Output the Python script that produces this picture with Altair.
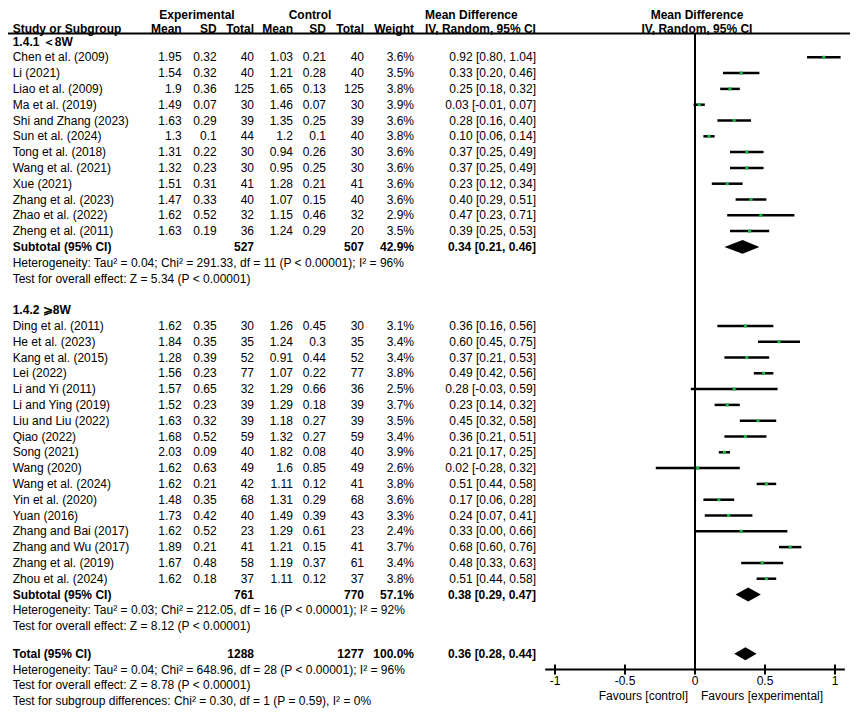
import altair as alt
import pandas as pd

FONT = "Liberation Sans"
GREEN = "#22B14C"

# ---------------- data ----------------
g1_label = "1.4.1 ＜8W"
g1_names = ["Chen et al.  (2009)", "Li  (2021)", "Liao et al.  (2009)", "Ma et al.  (2019)",
            "Shi and Zhang  (2023)", "Sun et al.  (2024)", "Tong et al.  (2018)", "Wang et al.  (2021)",
            "Xue  (2021)", "Zhang et al.  (2023)", "Zhao et al.  (2022)", "Zheng et al.  (2011)"]
g1_exp_mean = [1.95, 1.54, 1.9, 1.49, 1.63, 1.3, 1.31, 1.32, 1.51, 1.47, 1.62, 1.63]
g1_exp_sd = [0.32, 0.32, 0.36, 0.07, 0.29, 0.1, 0.22, 0.23, 0.31, 0.33, 0.52, 0.19]
g1_exp_n = [40, 40, 125, 30, 39, 44, 30, 30, 41, 40, 32, 36]
g1_ctl_mean = [1.03, 1.21, 1.65, 1.46, 1.35, 1.2, 0.94, 0.95, 1.28, 1.07, 1.15, 1.24]
g1_ctl_sd = [0.21, 0.28, 0.13, 0.07, 0.25, 0.1, 0.26, 0.25, 0.21, 0.15, 0.46, 0.29]
g1_ctl_n = [40, 40, 125, 30, 39, 40, 30, 30, 41, 40, 32, 20]
g1_weight = [3.6, 3.5, 3.8, 3.9, 3.6, 3.8, 3.6, 3.6, 3.6, 3.6, 2.9, 3.5]
g1_md = [0.92, 0.33, 0.25, 0.03, 0.28, 0.10, 0.37, 0.37, 0.23, 0.40, 0.47, 0.39]
g1_lo = [0.80, 0.20, 0.18, -0.01, 0.16, 0.06, 0.25, 0.25, 0.12, 0.29, 0.23, 0.25]
g1_hi = [1.04, 0.46, 0.32, 0.07, 0.40, 0.14, 0.49, 0.49, 0.34, 0.51, 0.71, 0.53]
g1_sub = {"en": 527, "cn": 507, "w": 42.9, "md": 0.34, "lo": 0.21, "hi": 0.46}
g1_het = "Heterogeneity: Tau² = 0.04; Chi² = 291.33, df = 11 (P < 0.00001); I² = 96%"
g1_test = "Test for overall effect: Z = 5.34 (P < 0.00001)"

g2_label = "1.4.2 ⩾8W"
g2_names = ["Ding et al.  (2011)", "He et al.  (2023)", "Kang et al.  (2015)", "Lei  (2022)",
            "Li and Yi  (2011)", "Li and Ying  (2019)", "Liu and Liu  (2022)", "Qiao  (2022)",
            "Song  (2021)", "Wang  (2020)", "Wang et al.  (2024)", "Yin et al.  (2020)",
            "Yuan  (2016)", "Zhang and Bai  (2017)", "Zhang and Wu  (2017)", "Zhang et al.  (2019)",
            "Zhou et al.  (2024)"]
g2_exp_mean = [1.62, 1.84, 1.28, 1.56, 1.57, 1.52, 1.63, 1.68, 2.03, 1.62, 1.62, 1.48, 1.73, 1.62, 1.89, 1.67, 1.62]
g2_exp_sd = [0.35, 0.35, 0.39, 0.23, 0.65, 0.23, 0.32, 0.52, 0.09, 0.63, 0.21, 0.35, 0.42, 0.52, 0.21, 0.48, 0.18]
g2_exp_n = [30, 35, 52, 77, 32, 39, 39, 59, 40, 49, 42, 68, 40, 23, 41, 58, 37]
g2_ctl_mean = [1.26, 1.24, 0.91, 1.07, 1.29, 1.29, 1.18, 1.32, 1.82, 1.6, 1.11, 1.31, 1.49, 1.29, 1.21, 1.19, 1.11]
g2_ctl_sd = [0.45, 0.3, 0.44, 0.22, 0.66, 0.18, 0.27, 0.27, 0.08, 0.85, 0.12, 0.29, 0.39, 0.61, 0.15, 0.37, 0.12]
g2_ctl_n = [30, 35, 52, 77, 36, 39, 39, 59, 40, 49, 41, 68, 43, 23, 41, 61, 37]
g2_weight = [3.1, 3.4, 3.4, 3.8, 2.5, 3.7, 3.5, 3.4, 3.9, 2.6, 3.8, 3.6, 3.3, 2.4, 3.7, 3.4, 3.8]
g2_md = [0.36, 0.60, 0.37, 0.49, 0.28, 0.23, 0.45, 0.36, 0.21, 0.02, 0.51, 0.17, 0.24, 0.33, 0.68, 0.48, 0.51]
g2_lo = [0.16, 0.45, 0.21, 0.42, -0.03, 0.14, 0.32, 0.21, 0.17, -0.28, 0.44, 0.06, 0.07, 0.00, 0.60, 0.33, 0.44]
g2_hi = [0.56, 0.75, 0.53, 0.56, 0.59, 0.32, 0.58, 0.51, 0.25, 0.32, 0.58, 0.28, 0.41, 0.66, 0.76, 0.63, 0.58]
g2_sub = {"en": 761, "cn": 770, "w": 57.1, "md": 0.38, "lo": 0.29, "hi": 0.47}
g2_het = "Heterogeneity: Tau² = 0.03; Chi² = 212.05, df = 16 (P < 0.00001); I² = 92%"
g2_test = "Test for overall effect: Z = 8.12 (P < 0.00001)"

tot = {"en": 1288, "cn": 1277, "w": 100.0, "md": 0.36, "lo": 0.28, "hi": 0.44}
tot_het = "Heterogeneity: Tau² = 0.04; Chi² = 648.96, df = 28 (P < 0.00001); I² = 96%"
tot_test = "Test for overall effect: Z = 8.78 (P < 0.00001)"
tot_sub = "Test for subgroup differences: Chi² = 0.30, df = 1 (P = 0.59), I² = 0%"

tick_vals = [-1, -0.5, 0, 0.5, 1]
tick_labels = ["-1", "-0.5", "0", "0.5", "1"]
axis_ext = [-1.07, 1.07]

# ---------------- layout (row index -> y) ----------------
R0_PX, ROW_PX = 33.5, 15.8
def rr(px):  # plot-pixel -> row units (layout helper for header rows)
    return (px - R0_PX) / ROW_PX

R_H1, R_H2, R_UL = rr(6.5), rr(21.0), rr(25.5)

cells = []   # r, col, text, bold
def add(r, col, text, bold=False):
    cells.append({"r": r, "col": col, "text": text, "bold": bold})

def ci(md, lo, hi):
    return f"{md:.2f} [{lo:.2f}, {hi:.2f}]"

# headers
add(R_H1, "exp_hdr", "Experimental", True)
add(R_H1, "ctl_hdr", "Control", True)
add(R_H1, "md_hdr", "Mean Difference", True)
add(R_H1, "fp_hdr", "Mean Difference", True)
for col, t in [("study", "Study or Subgroup"), ("em", "Mean"), ("esd", "SD"), ("en", "Total"),
               ("cm", "Mean"), ("csd", "SD"), ("cn", "Total"), ("w", "Weight"),
               ("md_hdr", "IV, Random, 95% CI"), ("fp_hdr", "IV, Random, 95% CI")]:
    add(R_H2, col, t, True)

studies = []   # r, md, lo, hi
diamonds = []  # g, x, ytop, ybot

def dia(g, r, s, h):
    diamonds.append({"g": g, "x": s["lo"], "ytop": r, "ybot": r})
    diamonds.append({"g": g, "x": s["md"], "ytop": r - h, "ybot": r + h})
    diamonds.append({"g": g, "x": s["hi"], "ytop": r, "ybot": r})

def add_group(r0, label, names, em, esd, en, cm, csd, cn, w, md, lo, hi, sub, het, test):
    add(r0, "study", label, True)
    r = r0
    for i in range(len(names)):
        r += 1
        add(r, "study", names[i])
        add(r, "em", str(em[i])); add(r, "esd", str(esd[i])); add(r, "en", str(en[i]))
        add(r, "cm", str(cm[i])); add(r, "csd", str(csd[i])); add(r, "cn", str(cn[i]))
        add(r, "w", f"{w[i]:.1f}%")
        add(r, "ci", ci(md[i], lo[i], hi[i]))
        studies.append({"r": r, "md": md[i], "lo": lo[i], "hi": hi[i]})
    r += 1
    add(r, "study", "Subtotal (95% CI)", True)
    add(r, "en", str(sub["en"]), True); add(r, "cn", str(sub["cn"]), True)
    add(r, "w", f"{sub['w']:.1f}%", True)
    add(r, "ci", ci(sub["md"], sub["lo"], sub["hi"]), True)
    dia(label, r, sub, 0.44)
    add(r + 1, "study", het)
    add(r + 2, "study", test)
    return r + 2

end1 = add_group(0, g1_label, g1_names, g1_exp_mean, g1_exp_sd, g1_exp_n, g1_ctl_mean, g1_ctl_sd,
                 g1_ctl_n, g1_weight, g1_md, g1_lo, g1_hi, g1_sub, g1_het, g1_test)
end2 = add_group(end1 + 2, g2_label, g2_names, g2_exp_mean, g2_exp_sd, g2_exp_n, g2_ctl_mean, g2_ctl_sd,
                 g2_ctl_n, g2_weight, g2_md, g2_lo, g2_hi, g2_sub, g2_het, g2_test)
rt = end2 + 1.75
add(rt, "study", "Total (95% CI)", True)
add(rt, "en", str(tot["en"]), True); add(rt, "cn", str(tot["cn"]), True)
add(rt, "w", f"{tot['w']:.1f}%", True)
add(rt, "ci", ci(tot["md"], tot["lo"], tot["hi"]), True)
dia("total", rt, tot, 0.41)
add(rt + 1, "study", tot_het)
add(rt + 2, "study", tot_test)
add(rt + 3, "study", tot_sub)

R_AXIS = rt + 1.0
R_TLAB = R_AXIS + 0.75
R_FAV = R_AXIS + 1.7

cells_df = pd.DataFrame(cells)
studies_df = pd.DataFrame(studies)
dia_df = pd.DataFrame(diamonds)
ticks_df = pd.DataFrame({"v": tick_vals, "lab": tick_labels,
                         "y1": [R_AXIS - 0.32] * 5, "y2": [R_AXIS + 0.32] * 5, "yl": [R_TLAB] * 5})

# ---------------- scales ----------------
xs = alt.Scale(domain=[-1, 1], range=[547, 827], zero=False, nice=False)
ys = alt.Scale(domain=[0, 40], range=[R0_PX, R0_PX + 40 * ROW_PX], zero=False, nice=False)

col_pos = {  # x (px in plot area), align
    "study": (4.7, "left"), "em": (173.7, "right"), "esd": (208.7, "right"), "en": (246, "right"),
    "cm": (285, "right"), "csd": (318, "right"), "cn": (356, "right"), "w": (406, "right"),
    "ci": (528, "right"), "exp_hdr": (189, "center"), "ctl_hdr": (302, "center"),
    "md_hdr": (417, "left"), "fp_hdr": (689, "center"),
}

layers = []
for col, (px, al) in col_pos.items():
    for b in (False, True):
        sub = cells_df[(cells_df.col == col) & (cells_df.bold == b)]
        if len(sub) == 0:
            continue
        layers.append(
            alt.Chart(sub).mark_text(align=al, baseline="middle", font=FONT, fontSize=12,
                                     fontWeight="bold" if b else "normal", color="black")
            .encode(x=alt.value(px), y=alt.Y("r:Q", scale=ys, axis=None), text="text:N")
        )

# header underline
ul_df = pd.DataFrame({"r": [R_UL]})
layers.append(alt.Chart(ul_df).mark_rule(color="black", strokeWidth=2)
              .encode(x=alt.value(0), x2=alt.value(842), y=alt.Y("r:Q", scale=ys, axis=None)))

# zero line
zl_df = pd.DataFrame({"x": [0], "r1": [R_UL], "r2": [R_AXIS]})
layers.append(alt.Chart(zl_df).mark_rule(color="black", strokeWidth=2)
              .encode(x=alt.X("x:Q", scale=xs, axis=None), y=alt.Y("r1:Q", scale=ys, axis=None), y2="r2:Q"))

# CI lines
layers.append(alt.Chart(studies_df).mark_rule(color="black", strokeWidth=2.5)
              .encode(x=alt.X("lo:Q", scale=xs, axis=None), x2="hi:Q", y=alt.Y("r:Q", scale=ys, axis=None)))
# point estimates
layers.append(alt.Chart(studies_df).mark_square(color=GREEN, size=10, opacity=1)
              .encode(x=alt.X("md:Q", scale=xs, axis=None), y=alt.Y("r:Q", scale=ys, axis=None)))
# diamonds
layers.append(alt.Chart(dia_df).mark_area(color="black", opacity=1)
              .encode(x=alt.X("x:Q", scale=xs, axis=None), y=alt.Y("ytop:Q", scale=ys, axis=None),
                      y2="ybot:Q", detail="g:N"))

# axis
ax_df = pd.DataFrame({"x1": [axis_ext[0]], "x2": [axis_ext[1]], "r": [R_AXIS]})
layers.append(alt.Chart(ax_df).mark_rule(color="black", strokeWidth=2)
              .encode(x=alt.X("x1:Q", scale=xs, axis=None), x2="x2:Q", y=alt.Y("r:Q", scale=ys, axis=None)))
layers.append(alt.Chart(ticks_df).mark_rule(color="black", strokeWidth=2)
              .encode(x=alt.X("v:Q", scale=xs, axis=None), y=alt.Y("y1:Q", scale=ys, axis=None), y2="y2:Q"))
layers.append(alt.Chart(ticks_df).mark_text(font=FONT, fontSize=12, baseline="middle", align="center")
              .encode(x=alt.X("v:Q", scale=xs, axis=None), y=alt.Y("yl:Q", scale=ys, axis=None), text="lab:N"))
fav_df = pd.DataFrame({"x": [0, 0], "r": [R_FAV, R_FAV],
                       "t": ["Favours [control]", "Favours [experimental]"]})
layers.append(alt.Chart(fav_df.iloc[[0]]).mark_text(font=FONT, fontSize=12, baseline="middle", align="right", dx=-7)
              .encode(x=alt.X("x:Q", scale=xs, axis=None), y=alt.Y("r:Q", scale=ys, axis=None), text="t:N"))
layers.append(alt.Chart(fav_df.iloc[[1]]).mark_text(font=FONT, fontSize=12, baseline="middle", align="left", dx=6)
              .encode(x=alt.X("x:Q", scale=xs, axis=None), y=alt.Y("r:Q", scale=ys, axis=None), text="t:N"))

chart = alt.layer(*layers).properties(
    width=842, height=700, padding=0,
    autosize=alt.AutoSizeParams(type="none"),
).configure_view(stroke=None)

chart.save("out.html", embed_options={"renderer": "svg", "actions": False})
